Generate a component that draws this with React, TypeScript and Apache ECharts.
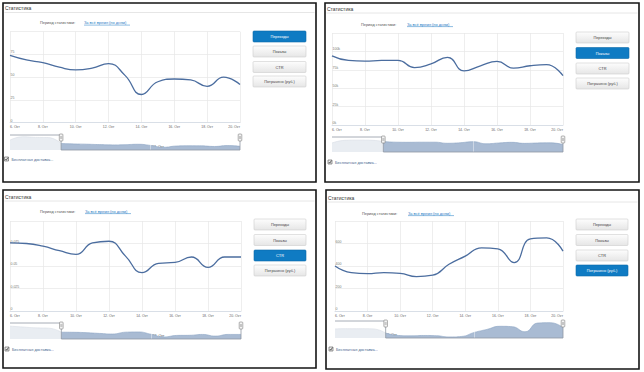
import React, { useEffect, useRef } from 'react';
import * as echarts from 'echarts';

const FONT = '"Liberation Sans", Arial, sans-serif';

// Days of October covered by the navigator (2 Oct – 20 Oct)
const days = [2, 3, 4, 5, 6, 7, 8, 9, 10, 11, 12, 13, 14, 15, 16, 17, 18, 19, 20];
const visibleFrom = 6;
const navLabelDays = [6, 13];

// Переходы (clicks)
const clicks = [112, 150, 143, 141, 74, 69, 66, 61, 58, 60, 65, 52, 31, 45, 48, 47, 40, 50, 42];
// Показы (impressions)
const impressions = [80000, 104000, 106000, 105000, 94000, 87700, 86800, 87700, 87700, 78000, 83000, 92000, 73600, 80500, 86400, 77300, 80500, 82000, 67000];
// CTR
const ctr = [0.118, 0.112, 0.106, 0.104, 0.0757, 0.075, 0.072, 0.067, 0.063, 0.0757, 0.0775, 0.061, 0.0426, 0.053, 0.054, 0.06, 0.0485, 0.06, 0.06];
// Потрачено (руб.)
const spent = [500, 505, 505, 500, 400, 341, 332, 341, 335, 306, 318, 415, 488, 562, 553, 430, 641, 650, 532];

const buttonLabels = ['Переходы', 'Показы', 'CTR', 'Потрачено (руб.)'];
const titleText = 'Статистика';
const periodText = 'Период статистики:';
const linkText = 'За всё время (по дням)';
const checkboxText = 'Бесплатная доставка...';

const fmtPlain = (v: number) => String(parseFloat(v.toFixed(3)));
const fmtK = (v: number) => `${Math.round(v / 1000)}k`;

const panels = [
  {
    values: clicks, active: 0, yMax: 100, yInterval: 25, fmt: fmtPlain, navMin: 0, navMax: 170,
    frame: [3, 3, 313, 179], title: [5, 8], under: 12.5, period: [40, 22.5], link: 84,
    plot: { left: 10, top: 31.7, width: 230, height: 91 }, nav: { top: 135, height: 15 },
    check: [4.5, 157], btn: { x: 253, w: 53, ys: [31, 46, 61.5, 76] },
  },
  {
    values: impressions, active: 1, yMax: 125000, yInterval: 25000, fmt: fmtK, navMin: 0, navMax: 134000,
    frame: [325, 3, 314, 179], title: [327, 9], under: 13, period: [361, 24], link: 407,
    plot: { left: 332, top: 33, width: 231, height: 92 }, nav: { top: 137, height: 15 },
    check: [328, 160], btn: { x: 576, w: 53, ys: [32, 47.5, 63, 78] },
  },
  {
    values: ctr, active: 2, yMax: 0.1, yInterval: 0.025, fmt: fmtPlain, navMin: 0.028, navMax: 0.14,
    frame: [3, 190, 313, 178], title: [5, 197], under: 201, period: [40, 211], link: 85,
    plot: { left: 10, top: 221, width: 231, height: 90 }, nav: { top: 323, height: 16 },
    check: [5, 347], btn: { x: 254, w: 52, ys: [219, 234.5, 250, 265] },
  },
  {
    values: spent, active: 3, yMax: 800, yInterval: 200, fmt: fmtPlain, navMin: 280, navMax: 690,
    frame: [326, 190, 313, 179], title: [328, 198], under: 202, period: [362, 213], link: 408,
    plot: { left: 335, top: 221, width: 228, height: 90 }, nav: { top: 321, height: 17 },
    check: [329, 347], btn: { x: 576, w: 52, ys: [219, 234.5, 250, 265] },
  },
];

export default function App() {
  const ref = useRef<HTMLDivElement>(null);

  useEffect(() => {
    if (!ref.current) return;
    const chart = echarts.init(ref.current, undefined, { renderer: 'svg' });
    const startIdx = days.indexOf(visibleFrom);

    const grid: any[] = [];
    const xAxis: any[] = [];
    const yAxis: any[] = [];
    const series: any[] = [];

    panels.forEach((p, i) => {
      grid.push({ left: p.plot.left, top: p.plot.top, width: p.plot.width, height: p.plot.height });
      grid.push({ left: p.plot.left, top: p.nav.top, width: p.plot.width, height: p.nav.height });

      xAxis.push({
        gridIndex: 2 * i, type: 'value', min: visibleFrom, max: days[days.length - 1], interval: 2,
        axisLine: { show: true, lineStyle: { color: '#d3dbe4', width: 0.8 } },
        axisTick: { show: false },
        splitLine: { show: true, lineStyle: { color: '#e7e7e7', width: 0.7 } },
        axisLabel: {
          fontSize: 3.5, color: '#666', fontFamily: FONT, margin: 2.5,
          alignMinLabel: 'left', alignMaxLabel: 'right',
          formatter: (v: number) => `${v}. Окт`,
        },
      });
      xAxis.push({
        gridIndex: 2 * i + 1, type: 'value', min: days[0], max: days[days.length - 1], interval: 1,
        axisLine: { show: false }, axisTick: { show: false }, splitLine: { show: false },
        axisLabel: {
          inside: true, fontSize: 3.5, color: '#555', fontFamily: FONT, align: 'left', margin: 0.8,
          padding: [0, 0, 0, 1.5],
          formatter: (v: number) => (navLabelDays.includes(v) ? `${v}. Окт` : ''),
        },
      });
      yAxis.push({
        gridIndex: 2 * i, type: 'value', min: 0, max: p.yMax, interval: p.yInterval,
        axisLine: { show: false }, axisTick: { show: false },
        splitLine: { show: true, lineStyle: { color: '#e7e7e7', width: 0.7 } },
        axisLabel: {
          inside: true, showMaxLabel: false, fontSize: 3.5, color: '#777', fontFamily: FONT,
          verticalAlign: 'bottom', margin: 0.5, formatter: p.fmt,
        },
      });
      yAxis.push({ gridIndex: 2 * i + 1, type: 'value', min: p.navMin, max: p.navMax, show: false });

      const all = days.map((d, k) => [d, p.values[k]]);
      series.push({
        type: 'line', xAxisIndex: 2 * i, yAxisIndex: 2 * i, smooth: true, symbol: 'none',
        lineStyle: { color: '#4b6d9f', width: 1.3 }, data: all.slice(startIdx), z: 3,
      });
      series.push({
        type: 'line', xAxisIndex: 2 * i + 1, yAxisIndex: 2 * i + 1, smooth: true, symbol: 'none',
        lineStyle: { color: '#d6dce4', width: 0.6 }, areaStyle: { color: '#e9edf2', origin: 'start', opacity: 1 },
        data: all.slice(0, startIdx + 1),
      });
      series.push({
        type: 'line', xAxisIndex: 2 * i + 1, yAxisIndex: 2 * i + 1, smooth: true, symbol: 'none',
        lineStyle: { color: '#8aa2c3', width: 0.6 }, areaStyle: { color: '#a9bbd3', origin: 'start', opacity: 1 },
        data: all.slice(startIdx),
        markLine: {
          silent: true, symbol: 'none', label: { show: false },
          lineStyle: { color: 'rgba(255,255,255,0.7)', width: 0.6, type: 'solid' },
          data: [{ xAxis: navLabelDays[1] }],
        },
      });
    });

    chart.setOption({
      animation: false,
      backgroundColor: '#ffffff',
      grid, xAxis, yAxis, series,
    });

    const graphics: any[] = [];
    const txt = (x: number, y: number, text: string, size: number, fill: string, extra: any = {}) => ({
      type: 'text', x, y, silent: true, z: 20,
      style: { text, fontSize: size, fill, fontFamily: FONT, verticalAlign: 'middle', align: 'left', ...extra },
    });

    panels.forEach((p, i) => {
      const [fx, fy, fw, fh] = p.frame;
      graphics.push({
        type: 'rect', silent: true, z: 20, shape: { x: fx, y: fy, width: fw, height: fh },
        style: { fill: 'none', stroke: '#151515', lineWidth: 1.6 },
      });
      graphics.push(txt(p.title[0], p.title[1], titleText, 5, '#333'));
      graphics.push({
        type: 'line', silent: true, z: 20,
        shape: { x1: fx + 1.5, y1: p.under, x2: fx + fw - 1.5, y2: p.under },
        style: { stroke: '#e0e0e0', lineWidth: 0.8 },
      });
      graphics.push(txt(p.period[0], p.period[1], periodText, 3.9, '#555'));
      graphics.push(txt(p.link, p.period[1], linkText, 3.9, '#1f7bc4'));
      graphics.push({
        type: 'line', silent: true, z: 20,
        shape: { x1: p.link, y1: p.period[1] + 2.6, x2: p.link + 46, y2: p.period[1] + 2.6 },
        style: { stroke: '#1f7bc4', lineWidth: 0.5 },
      });

      // navigator outline and handles
      const nx0 = chart.convertToPixel({ xAxisIndex: 2 * i + 1 }, days[0]) as number;
      const nxs = chart.convertToPixel({ xAxisIndex: 2 * i + 1 }, visibleFrom) as number;
      const nxe = chart.convertToPixel({ xAxisIndex: 2 * i + 1 }, days[days.length - 1]) as number;
      const nt = p.nav.top;
      const nb = p.nav.top + p.nav.height;
      graphics.push({
        type: 'polyline', silent: true, z: 21,
        shape: { points: [[nx0, nt], [nxs, nt], [nxs, nb], [nxe, nb], [nxe, nt]] },
        style: { fill: 'none', stroke: '#8f98a3', lineWidth: 0.8 },
      });
      [nxs, nxe].forEach((hx) => {
        graphics.push({
          type: 'rect', silent: true, z: 22,
          shape: { x: hx - 1.8, y: nt - 1, width: 3.6, height: 7, r: 0.8 },
          style: { fill: '#f4f4f4', stroke: '#7d7d7d', lineWidth: 0.6 },
        });
        graphics.push({
          type: 'line', silent: true, z: 23,
          shape: { x1: hx - 0.5, y1: nt + 1, x2: hx - 0.5, y2: nt + 4 },
          style: { stroke: '#7d7d7d', lineWidth: 0.4 },
        });
        graphics.push({
          type: 'line', silent: true, z: 23,
          shape: { x1: hx + 0.5, y1: nt + 1, x2: hx + 0.5, y2: nt + 4 },
          style: { stroke: '#7d7d7d', lineWidth: 0.4 },
        });
      });

      // checkbox
      const [cx, cy] = p.check;
      graphics.push({
        type: 'rect', silent: true, z: 20, shape: { x: cx, y: cy, width: 4, height: 4 },
        style: { fill: '#f0f0f0', stroke: '#555', lineWidth: 0.6 },
      });
      graphics.push({
        type: 'polyline', silent: true, z: 21,
        shape: { points: [[cx + 0.8, cy + 2], [cx + 1.8, cy + 3.2], [cx + 3.4, cy + 0.6]] },
        style: { fill: 'none', stroke: '#222', lineWidth: 0.7 },
      });
      graphics.push(txt(cx + 7, cy + 2, checkboxText, 3.9, '#3f5f8c'));

      // buttons
      p.btn.ys.forEach((by, k) => {
        const active = k === p.active;
        graphics.push({
          type: 'rect', silent: true, z: 20,
          shape: { x: p.btn.x, y: by, width: p.btn.w, height: 11, r: 1 },
          style: active
            ? { fill: '#0f7bc3', stroke: '#0b69a8', lineWidth: 0.6 }
            : {
                fill: { type: 'linear', x: 0, y: 0, x2: 0, y2: 1, colorStops: [{ offset: 0, color: '#fdfdfd' }, { offset: 1, color: '#e6e6e6' }] },
                stroke: '#cdcdcd', lineWidth: 0.6,
              },
        });
        graphics.push(txt(p.btn.x + p.btn.w / 2, by + 5.5, buttonLabels[k], 3.9, active ? '#ffffff' : '#444', { align: 'center' }));
      });
    });

    chart.setOption({ graphic: graphics });

    return () => chart.dispose();
  }, []);

  return <div ref={ref} style={{ position: 'fixed', left: 0, top: 0, width: 644, height: 372, background: '#fff' }} />;
}
